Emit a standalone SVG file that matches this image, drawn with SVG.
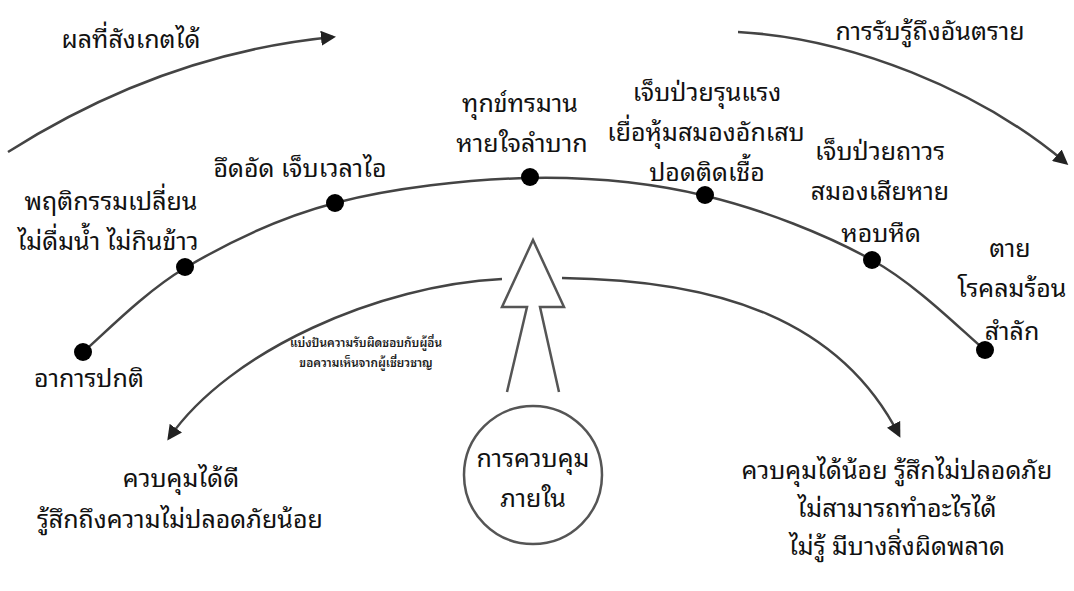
<svg xmlns="http://www.w3.org/2000/svg" width="1074" height="591" viewBox="0 0 1074 591">
<style>
.t{font-family:"Noto Sans Thai Looped","Noto Sans Thai","Noto Sans","DejaVu Sans",sans-serif;font-size:25px;fill:#111;text-anchor:middle}
.s{font-family:"Noto Sans Thai Looped","Noto Sans Thai","Noto Sans","DejaVu Sans",sans-serif;font-size:11.8px;font-weight:600;fill:#222;text-anchor:middle}
.ln{fill:none;stroke:#444;stroke-width:2.5}
.dot{fill:#000}
</style>
<defs>
<marker id="ah" viewBox="0 0 10 10" refX="8" refY="5" markerWidth="6" markerHeight="6" markerUnits="strokeWidth" orient="auto">
<path d="M0,0 L10,5 L0,10 z" fill="#222"/>
</marker>
</defs>
<rect width="1074" height="591" fill="#fff"/>
<g id="connectors">
<path class="ln" d="M8,152 C90,100 200,50 333,37" marker-end="url(#ah)"/>
<path class="ln" d="M738,32 C850,38 980,90 1066,163" marker-end="url(#ah)"/>
<path class="ln" d="M82,353 C99.2,338.8 142.8,293 185,268 C227.2,243 277.5,218 335,203 C392.5,188 468.2,179.2 530,178 C591.8,176.8 649,182.3 706,196 C763,209.7 825.5,234.3 872,260 C918.5,285.7 966.2,335 985,350"/>
<path class="ln" d="M502,279 C380,285 230,350 169,438" marker-end="url(#ah)"/>
<path class="ln" d="M562,278 C720,280 840,320 899,435" marker-end="url(#ah)"/>
</g>
<g id="dots">
<circle class="dot" cx="83" cy="352" r="9"/>
<circle class="dot" cx="185" cy="267" r="9"/>
<circle class="dot" cx="335" cy="203" r="9"/>
<circle class="dot" cx="530" cy="177" r="9"/>
<circle class="dot" cx="705" cy="195" r="9"/>
<circle class="dot" cx="872" cy="260" r="9"/>
<circle class="dot" cx="985" cy="350" r="9"/>
</g>
<g id="big-arrow">
<path d="M507,392 L527,307 L502,307 L533,240 L564,307 L540,307 L559,392" fill="#fff" stroke="#555" stroke-width="2.5" stroke-linejoin="miter"/>
</g>
<g id="internal-control">
<circle cx="533" cy="475" r="69" fill="#fff" stroke="#555" stroke-width="2.5"/>
<text class="t" x="533" y="467">การควบคุม</text>
<text class="t" x="533" y="507">ภายใน</text>
</g>
<g id="label-observed"><text class="t" x="131" y="48">ผลที่สังเกตได้</text></g>
<g id="label-danger"><text class="t" x="930" y="40">การรับรู้ถึงอันตราย</text></g>
<g id="node-normal"><text class="t" x="89" y="387">อาการปกติ</text></g>
<g id="node-behavior">
<text class="t" x="111" y="210">พฤติกรรมเปลี่ยน</text>
<text class="t" x="108" y="250">ไม่ดื่มน้ำ ไม่กินข้าว</text>
</g>
<g id="node-tight"><text class="t" x="300" y="177">อึดอัด เจ็บเวลาไอ</text></g>
<g id="node-suffer">
<text class="t" x="520" y="112">ทุกข์ทรมาน</text>
<text class="t" x="522" y="152">หายใจลำบาก</text>
</g>
<g id="node-severe">
<text class="t" x="707" y="101">เจ็บป่วยรุนแรง</text>
<text class="t" x="706" y="141">เยื่อหุ้มสมองอักเสบ</text>
<text class="t" x="707" y="181">ปอดติดเชื้อ</text>
</g>
<g id="node-permanent">
<text class="t" x="880" y="160">เจ็บป่วยถาวร</text>
<text class="t" x="880" y="200">สมองเสียหาย</text>
<text class="t" x="881" y="242">หอบหืด</text>
</g>
<g id="node-death">
<text class="t" x="1010" y="257">ตาย</text>
<text class="t" x="1012" y="297">โรคลมร้อน</text>
<text class="t" x="1012" y="340">สำลัก</text>
</g>
<g id="label-share">
<text class="s" x="366" y="347">แบ่งปันความรับผิดชอบกับผู้อื่น</text>
<text class="s" x="366" y="367">ขอความเห็นจากผู้เชี่ยวชาญ</text>
</g>
<g id="outcome-good">
<text class="t" x="181" y="487">ควบคุมได้ดี</text>
<text class="t" x="180" y="528">รู้สึกถึงความไม่ปลอดภัยน้อย</text>
</g>
<g id="outcome-poor">
<text class="t" x="897" y="479">ควบคุมได้น้อย รู้สึกไม่ปลอดภัย</text>
<text class="t" x="897" y="517">ไม่สามารถทำอะไรได้</text>
<text class="t" x="897" y="555">ไม่รู้ มีบางสิ่งผิดพลาด</text>
</g>
</svg>
